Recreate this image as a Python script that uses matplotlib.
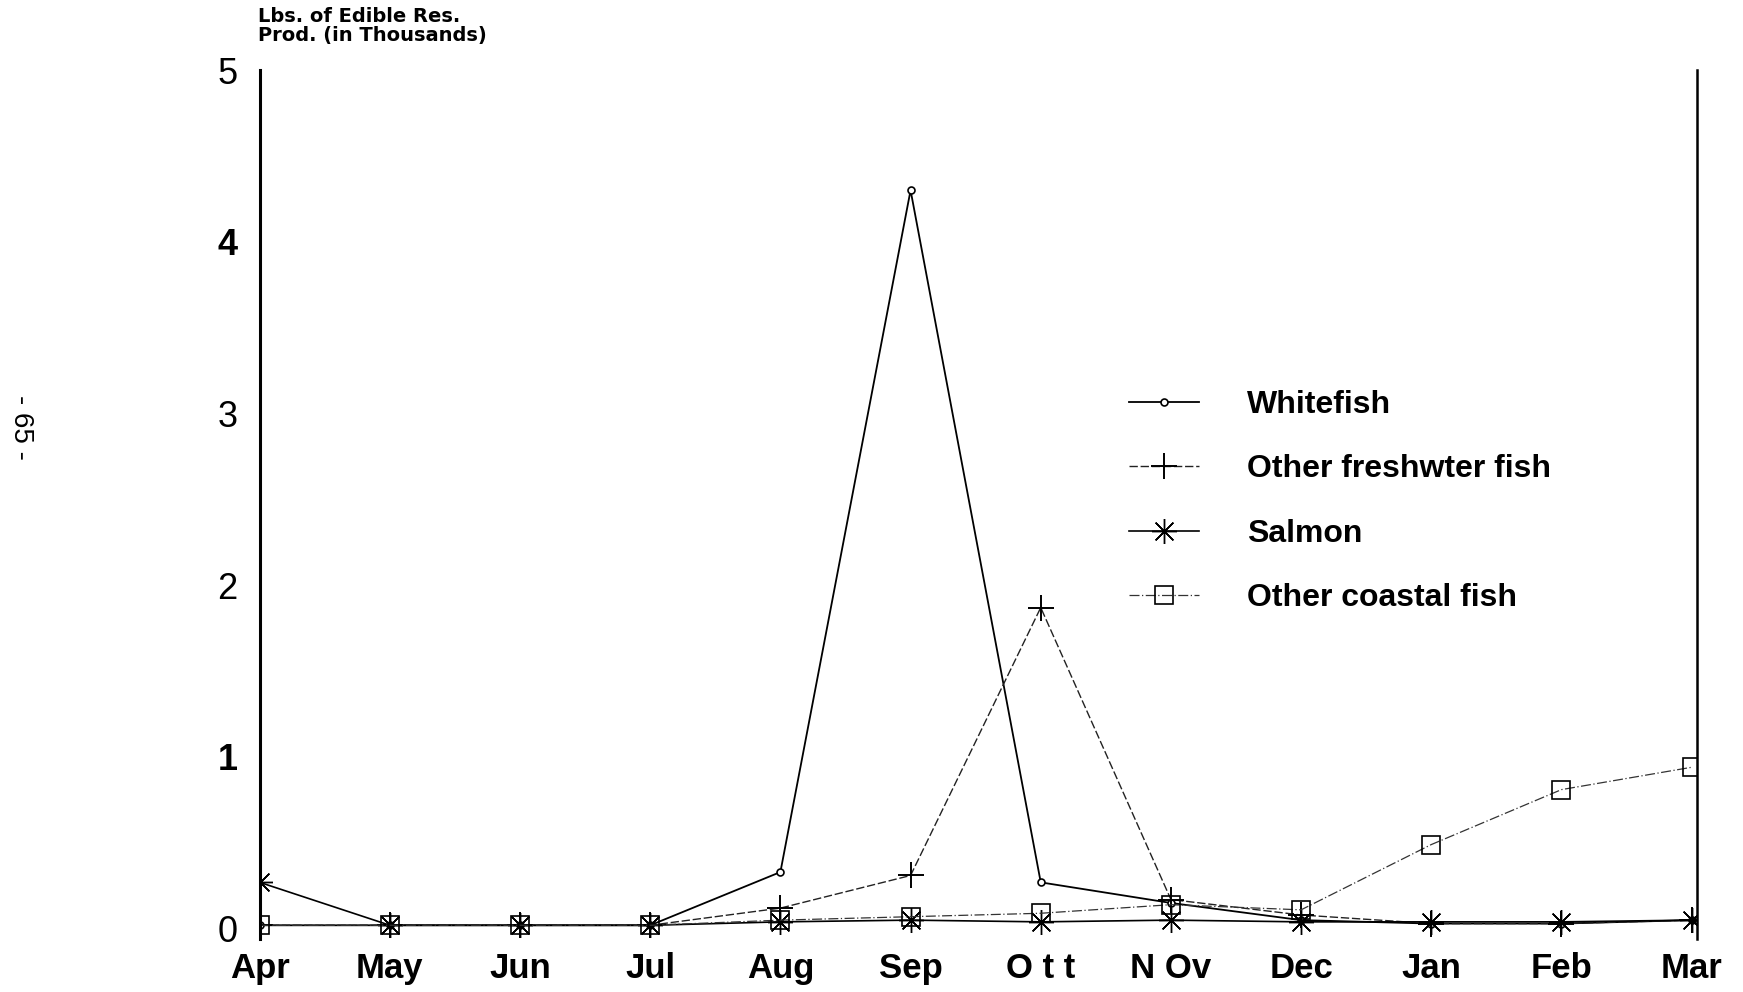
import numpy as np
import matplotlib.pyplot as plt

months = ["Apr", "May", "Jun", "Jul", "Aug", "Sep", "O t t", "N Ov", "Dec", "Jan", "Feb", "Mar"]
whitefish = [0.02, 0.02, 0.02, 0.02, 0.33, 4.30, 0.27, 0.15, 0.05, 0.03, 0.03, 0.05]
freshwater = [0.02, 0.02, 0.02, 0.02, 0.12, 0.31, 1.87, 0.17, 0.08, 0.03, 0.03, 0.05]
salmon = [0.27, 0.02, 0.02, 0.02, 0.04, 0.05, 0.04, 0.05, 0.04, 0.04, 0.04, 0.05]
coastal = [0.02, 0.02, 0.02, 0.02, 0.05, 0.07, 0.09, 0.14, 0.11, 0.49, 0.81, 0.94]
yticks = [0, 1, 2, 3, 4, 5]

plt.rcParams['font.family'] = ['Liberation Sans', 'DejaVu Sans']

fig = plt.figure(figsize=(17.43, 9.92), dpi=100)
ax = fig.add_axes([0.149, 0.0534, 0.8245, 0.876])
x = np.arange(len(months))

asterisk = (8, 2, 0)
ax.plot(x, whitefish, color='black', lw=1.3, marker='o', ms=5, mfc='white', mew=1.2,
        label='Whitefish')
ax.plot(x, freshwater, color='#222222', lw=1.0, ls=(0, (6, 2)), marker='+', ms=19, mew=1.4,
        mec='black', label='Other freshwter fish')
ax.plot(x, salmon, color='black', lw=1.2, marker=asterisk, ms=18, mew=1.0,
        label='Salmon')
ax.plot(x, coastal, color='#333333', lw=0.9, ls=(0, (8, 2, 1, 2)), marker='s', ms=13,
        mfc='none', mec='black', mew=1.2, label='Other coastal fish')

ax.set_xlim(0, 11.04)
ax.set_ylim(-0.06, 5.0)
ax.set_xticks(x)
ax.set_xticklabels(months, fontsize=25, fontweight='bold')
ax.set_yticks(yticks)
ax.set_yticklabels([str(v) for v in yticks], fontsize=26)
for lab in ax.get_yticklabels():
    if lab.get_text() in ("1", "4"):
        lab.set_fontweight('bold')
ax.tick_params(axis='x', length=0, pad=9)
ax.tick_params(axis='y', length=0, pad=16)

ax.spines['top'].set_visible(False)
ax.spines['bottom'].set_visible(False)
ax.spines['left'].set_linewidth(2.2)
ax.spines['right'].set_linewidth(1.8)

ax.legend(loc='upper left', bbox_to_anchor=(0.585, 0.665), frameon=False,
          prop={'size': 23, 'weight': 'bold'}, labelspacing=1.08,
          handlelength=2.2, handletextpad=1.5)

fig.text(0.148, 0.993, "Lbs. of Edible Res.\nProd. (in Thousands)", fontsize=14,
         fontweight='bold', family=['DejaVu Sans'], va='top', ha='left',
         linespacing=1.0)
fig.text(0.012, 0.569, "- 65 -", rotation=-90, fontsize=20, ha='center', va='center')

fig.savefig("out.png", dpi=100)
